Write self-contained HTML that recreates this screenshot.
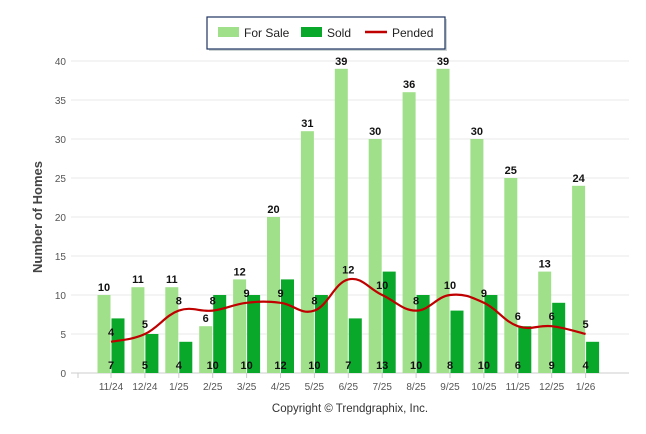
<!DOCTYPE html>
<html><head><meta charset="utf-8"><style>
body{margin:0;background:#fff;font-family:"Liberation Sans",sans-serif}
svg{display:block}
</style></head><body>
<svg id="c" width="646" height="434" xmlns="http://www.w3.org/2000/svg">
<g>
<rect x="209" y="19" width="238" height="32" fill="#9aa" opacity="0.5"/>
<rect x="207" y="17" width="238" height="32" fill="#fff" stroke="#1f3460" stroke-width="1.2"/>
<rect x="218" y="27" width="21" height="10" fill="#a0e08a"/>
<text x="244" y="37" font-size="12" fill="#222">For Sale</text>
<rect x="301" y="27" width="21" height="10" fill="#0aa82a"/>
<text x="327" y="37" font-size="12" fill="#222">Sold</text>
<line x1="365" y1="32" x2="387" y2="32" stroke="#c00000" stroke-width="2.5"/>
<text x="392" y="37" font-size="12" fill="#222">Pended</text>
</g>
<text transform="translate(42,217) rotate(-90)" text-anchor="middle" font-size="13" font-weight="bold" fill="#444">Number of Homes</text>
<text x="350" y="412" text-anchor="middle" font-size="11.5" fill="#333">Copyright © Trendgraphix, Inc.</text>
<g id="grid"></g><g id="bars"></g><g id="line"></g><g id="labels"></g>
</svg>
<script>
const categories=["11/24","12/24","1/25","2/25","3/25","4/25","5/25","6/25","7/25","8/25","9/25","10/25","11/25","12/25","1/26"];
const forSale=[10,11,11,6,12,20,31,39,30,36,39,30,25,13,24];
const sold=[7,5,4,10,10,12,10,7,13,10,8,10,6,9,4];
const pended=[4,5,8,8,9,9,8,12,10,8,10,9,6,6,5];
const yTicks=[0,5,10,15,20,25,30,35,40];
const NS="http://www.w3.org/2000/svg";
const y=v=>373-v*7.8;
const x=i=>111+i*33.9;
function mk(tag,attrs,parent,text){const e=document.createElementNS(NS,tag);for(const k in attrs)e.setAttribute(k,attrs[k]);if(text!==undefined)e.textContent=text;document.getElementById(parent).appendChild(e);return e;}
yTicks.forEach(t=>{
 const l=mk('line',{x1:71,x2:629,y1:y(t),y2:y(t),stroke:t===0?'#ccc':'#e8e8e8'},'grid');
 
 
 const tx=mk('text',{x:66,y:y(t)+4,'text-anchor':'end','font-size':10,fill:'#555'},'grid',t);
 
 
});
mk('line',{x1:78,x2:78,y1:373,y2:378,stroke:'#ccc'},'grid');
categories.forEach((c,i)=>{
 const tk=mk('line',{x1:x(i),x2:x(i),y1:373,y2:378,stroke:'#ccc'},'grid');
 
 
 const t=mk('text',{x:x(i),y:390,'text-anchor':'middle','font-size':10,fill:'#555'},'grid',c);
 
 
 const b1=mk('rect',{x:x(i)-13.5,y:y(forSale[i]),width:13,height:forSale[i]*7.8,fill:'#a0e08a'},'bars');
 
 
 const b2=mk('rect',{x:x(i)+0.5,y:y(sold[i]),width:13,height:sold[i]*7.8,fill:'#0aa82a'},'bars');
 
 
 const l1=mk('text',{x:x(i)-7,y:y(forSale[i])-4,'text-anchor':'middle','font-size':11,'font-weight':'bold',fill:'#111'},'labels',forSale[i]);
 
 
 const l2=mk('text',{x:x(i),y:369,'text-anchor':'middle','font-size':11,'font-weight':'bold',fill:'#111'},'labels',sold[i]);
 
 
 const l3=mk('text',{x:x(i),y:y(pended[i])-6,'text-anchor':'middle','font-size':11,'font-weight':'bold',fill:'#111'},'labels',pended[i]);
 
 
});
const pts=pended.map((v,i)=>[x(i),y(v)]);
let d=`M${pts[0][0]},${pts[0][1]}`;
for(let i=0;i<pts.length-1;i++){
 const p0=pts[Math.max(0,i-1)],p1=pts[i],p2=pts[i+1],p3=pts[Math.min(pts.length-1,i+2)];
 const t=0.2;
 d+=` C${p1[0]+(p2[0]-p0[0])*t},${p1[1]+(p2[1]-p0[1])*t} ${p2[0]-(p3[0]-p1[0])*t},${p2[1]-(p3[1]-p1[1])*t} ${p2[0]},${p2[1]}`;
}
const pl=mk('path',{d:d,fill:'none',stroke:'#c00000','stroke-width':2.2},'line');


</script>
</body></html>
